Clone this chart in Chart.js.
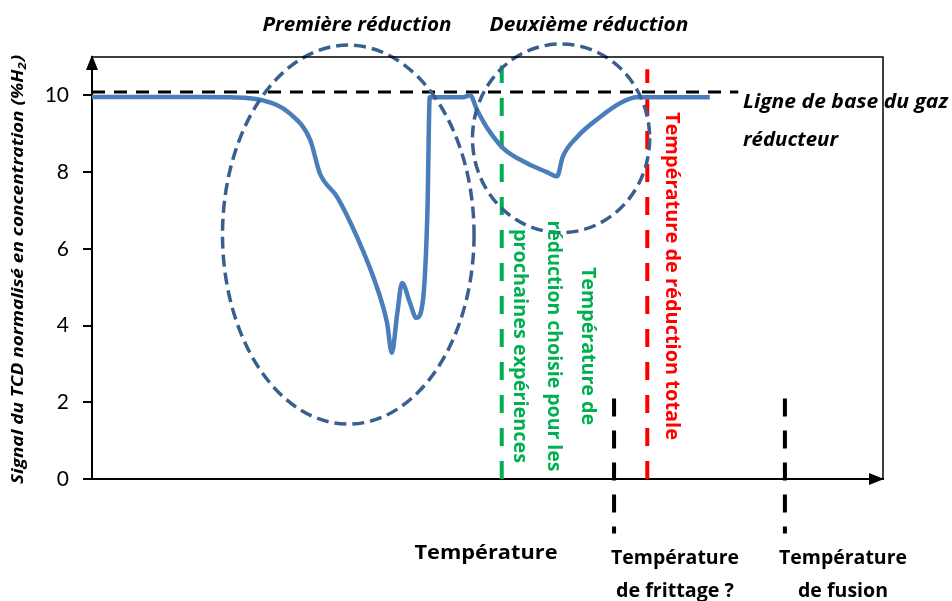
<!DOCTYPE html>
<html>
<head>
<meta charset="utf-8">
<script src="https://cdn.jsdelivr.net/npm/chart.js@4.4.1/dist/chart.umd.min.js"></script>
<style>
  html, body { margin: 0; padding: 0; background: #fff; }
  canvas { display: block; }
</style>
</head>
<body>
<canvas id="tcd" width="952" height="601"></canvas>
<script>
// temperature axis is arbitrary (0-100), signal in % H2
var tempX   = [0, 13.6, 17.4, 21.6, 25.0, 27.6, 28.8, 31.0, 33.5, 36.0, 37.3, 37.9, 38.6, 39.2, 40.2, 41.0, 41.8, 42.4, 42.7,
               46.9, 47.8, 48.7, 49.9, 52.0, 55.0, 57.5, 58.8, 59.5, 61.3, 64.2, 66.8, 68.9, 78.1];
var signalY = [9.96, 9.96, 9.95, 9.87, 9.53, 8.83, 7.97, 7.35, 6.31, 5.01, 4.07, 3.29, 4.33, 5.11, 4.59, 4.20, 4.59, 6.93, 9.95,
               9.95, 10.0, 9.61, 9.17, 8.62, 8.23, 8.00, 7.89, 8.39, 8.91, 9.43, 9.80, 9.95, 9.95];
var yTicks = [0, 2, 4, 6, 8, 10];

var baseLevel = 10.09, baseEnd = 81.7;
var chosenT = 51.8, chosenTop = 10.78;       // green
var totalT = 70.2, totalTop = 10.68;         // red
var sinterT = 66.0, meltT = 87.6;            // black dash-dot
var markTop = 2.1, markBottom = -1.42;

// ellipses: [cx, cy, rx, ry] in data units
var zones = [[32.4, 6.37, 15.9, 4.94], [59.3, 8.88, 11.2, 2.46]];

var font = "'Open Sans', sans-serif";

var signal = tempX.map(function (t, i) { return { x: t, y: signalY[i] }; });

function vline(x, y0, y1, color, dash) {
  return {
    data: [{ x: x, y: y0 }, { x: x, y: y1 }],
    borderColor: color, borderWidth: 4, borderDash: dash,
    pointRadius: 0, tension: 0, clip: false, order: 3
  };
}

// draw text squeezed/stretched to a given width (Calibri-like widths)
function fitText(c, s, x, y, w) {
  var m = c.measureText(s).width;
  c.save();
  c.translate(x, y);
  c.scale(w / m, 1);
  c.fillText(s, 0, 0);
  c.restore();
}

var decor = {
  id: "decor",
  afterDatasetsDraw: function (chart) {
    var c = chart.ctx, xs = chart.scales.x, ys = chart.scales.y;
    c.save();
    c.strokeStyle = "#3A5F8E";
    c.lineWidth = 3.5;
    c.setLineDash([12, 6]);
    zones.forEach(function (z) {
      var cx = xs.getPixelForValue(z[0]), cy = ys.getPixelForValue(z[1]);
      var rx = xs.getPixelForValue(z[0] + z[2]) - cx;
      var ry = cy - ys.getPixelForValue(z[1] + z[3]);
      c.beginPath();
      c.ellipse(cx, cy, rx, ry, 0, 0, Math.PI * 2);
      c.stroke();
    });
    c.restore();
  },
  afterDraw: function (chart) {
    var c = chart.ctx, a = chart.chartArea;
    c.save();
    // frame
    c.strokeStyle = "#000";
    c.lineWidth = 1.5;
    c.beginPath();
    c.moveTo(a.left, a.top);
    c.lineTo(a.right, a.top);
    c.lineTo(a.right, a.bottom);
    c.stroke();
    // arrows
    c.fillStyle = "#000";
    c.beginPath();
    c.moveTo(a.left, a.top - 2);
    c.lineTo(a.left - 6, a.top + 13);
    c.lineTo(a.left + 6, a.top + 13);
    c.closePath();
    c.fill();
    c.beginPath();
    c.moveTo(a.right + 1, a.bottom);
    c.lineTo(a.right - 14, a.bottom - 6);
    c.lineTo(a.right - 14, a.bottom + 6);
    c.closePath();
    c.fill();

    // headings
    c.fillStyle = "#000";
    c.textAlign = "center";
    c.textBaseline = "middle";
    c.font = "italic bold 19px " + font;
    fitText(c, "Première réduction", 357, 26, 189);
    fitText(c, "Deuxième réduction", 589, 26, 199);
    c.textAlign = "left";
    fitText(c, "Ligne de base du gaz", 743, 103, 205);
    fitText(c, "réducteur", 743, 141, 95);

    // bottom labels
    c.textAlign = "center";
    c.font = "bold 20px " + font;
    fitText(c, "Température", 486, 553, 143);
    fitText(c, "Température", 675, 558, 128);
    fitText(c, "de frittage ?", 675, 591, 118);
    fitText(c, "Température", 843, 558, 128);
    fitText(c, "de fusion", 843, 591, 90);

    // rotated labels
    c.save();
    c.translate(672, 276);
    c.rotate(Math.PI / 2);
    c.fillStyle = "#FF0000";
    c.font = "bold 20px " + font;
    fitText(c, "Température de réduction totale", 0, 0, 328);
    c.restore();

    var green = [["Température de", 158], ["réduction choisie pour les", 251], ["prochaines expériences", 234]];
    c.save();
    c.translate(588, 346);
    c.rotate(Math.PI / 2);
    c.fillStyle = "#00B050";
    c.font = "bold 20px " + font;
    green.forEach(function (s, i) { fitText(c, s[0], 0, 34 * i, s[1]); });
    c.restore();

    // y title with subscript
    c.save();
    c.translate(18, 270);
    c.rotate(-Math.PI / 2);
    c.fillStyle = "#000";
    c.textAlign = "left";
    var big = "italic bold 16px " + font, small = "italic bold 11px " + font;
    var p1 = "Signal du TCD normalisé en concentration (%H", p2 = "2", p3 = ")";
    c.font = big;
    var w1 = c.measureText(p1).width, w3 = c.measureText(p3).width;
    c.font = small;
    var w2 = c.measureText(p2).width;
    var k = 428 / (w1 + w2 + w3);
    c.scale(k, 1);
    var x0 = -(w1 + w2 + w3) / 2;
    c.font = big;
    c.fillText(p1, x0, 0);
    c.font = small;
    c.fillText(p2, x0 + w1, 5);
    c.font = big;
    c.fillText(p3, x0 + w1 + w2 + 1, 0);
    c.restore();

    c.restore();
  }
};

new Chart(document.getElementById("tcd").getContext("2d"), {
  type: "line",
  data: {
    datasets: [
      {
        data: signal,
        borderColor: "#4A7EBB",
        borderWidth: 4.5,
        pointRadius: 0,
        cubicInterpolationMode: "monotone",
        order: 1
      },
      {
        data: [{ x: 0, y: baseLevel }, { x: baseEnd, y: baseLevel }],
        borderColor: "#000", borderWidth: 3, borderDash: [13, 9],
        pointRadius: 0, order: 2
      },
      vline(chosenT, 0, chosenTop, "#00B050", [18, 15]),
      vline(totalT, 0, totalTop, "#FF0000", [18, 15]),
      vline(sinterT, markTop, markBottom, "#000", [18, 14]),
      vline(meltT, markTop, markBottom, "#000", [18, 14])
    ]
  },
  options: {
    responsive: false,
    animation: false,
    layout: { padding: { left: 0, right: 69, top: 57, bottom: 122 } },
    plugins: { legend: { display: false }, tooltip: { enabled: false } },
    scales: {
      x: {
        type: "linear", min: 0, max: 100,
        ticks: { display: false },
        grid: { display: false },
        border: { display: true, color: "#000", width: 2 },
        afterFit: function (s) { s.height = 0; }
      },
      y: {
        type: "linear", min: 0, max: 11,
        afterBuildTicks: function (s) { s.ticks = yTicks.map(function (v) { return { value: v }; }); },
        ticks: { color: "#000", font: { family: "Lato, 'Open Sans', sans-serif", size: 21 }, padding: 14 },
        grid: { display: true, drawOnChartArea: false, drawTicks: true, tickLength: 9, color: "#000", lineWidth: 2 },
        border: { display: true, color: "#000", width: 2 },
        afterFit: function (s) { s.width = 92; }
      }
    }
  },
  plugins: [decor]
});
</script>
</body>
</html>
